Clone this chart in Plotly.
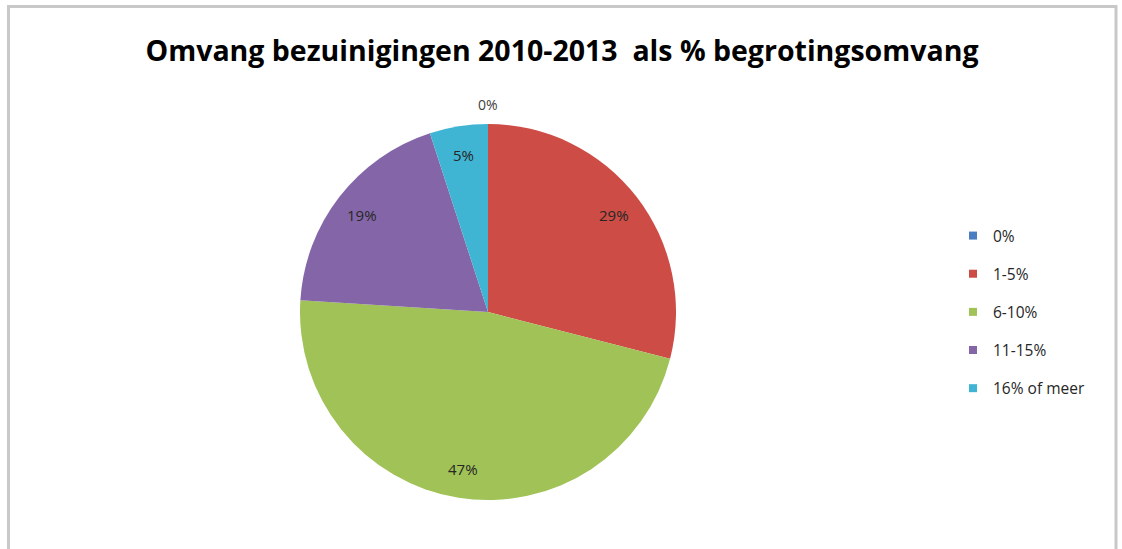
import plotly.graph_objects as go
import math

categories = ["0%", "1-5%", "6-10%", "11-15%", "16% of meer"]
values = [0, 29, 47, 19, 5]
colors = ["#4A7EC0", "#CD4C45", "#A0C257", "#8466A8", "#40B5D3"]
title = "Omvang bezuinigingen 2010-2013  als % begrotingsomvang"

W, H = 1122, 549
cx, cy, R = 488, 312, 188

fig = go.Figure()
fig.add_trace(go.Pie(
    labels=categories, values=values, sort=False, direction="clockwise",
    rotation=0, marker=dict(colors=colors, line=dict(width=0)),
    textinfo="none", showlegend=False, hoverinfo="label+value",
    domain=dict(x=[(cx - R) / W, (cx + R) / W], y=[1 - (cy + R) / H, 1 - (cy - R) / H]),
))

# legend entries as marker-only traces
for c, col in zip(categories, colors):
    fig.add_trace(go.Scatter(x=[None], y=[None], mode="markers", name=c,
                             legendgroup=c,
                             marker=dict(symbol="square", size=8, color=col)))

# data labels placed at each slice's mid-angle
cum = 0
total = sum(values)
annotations = []
for c, v in zip(categories, values):
    ang = 2 * math.pi * (cum + v / 2) / total
    rr = R + 20 if v == 0 else R * 0.845
    px = cx + rr * math.sin(ang)
    py = cy - rr * math.cos(ang)
    annotations.append(dict(x=px / W, y=1 - py / H, xref="paper", yref="paper",
                            xanchor="center", yanchor="middle",
                            text=f"{v}%", showarrow=False,
                            font=dict(family="Open Sans", size=15 if v else 14,
                                      color="#404040" if v == 0 else "#262626")))
    cum += v

fig.update_layout(
    width=W, height=H,
    margin=dict(l=0, r=0, t=0, b=0),
    paper_bgcolor="white", plot_bgcolor="white",
    title=dict(text=title, x=562 / W, xanchor="center", y=1 - 51 / H, yanchor="middle",
               font=dict(family="Open Sans", size=28.5, color="black", weight="bold")),
    xaxis=dict(visible=False), yaxis=dict(visible=False),
    legend=dict(x=953 / W, xanchor="left", y=1 - 312 / H, yanchor="middle",
                font=dict(family="Open Sans", size=15.5, color="#262626"),
                tracegroupgap=15, bgcolor="rgba(0,0,0,0)"),
    annotations=annotations,
    shapes=[dict(type="rect", xref="paper", yref="paper",
                 x0=8.5 / W, x1=1116 / W, y0=-0.1, y1=1 - 6.5 / H,
                 line=dict(color="#C8C8C8", width=3))],
)

fig.write_html("out.html", config={"displayModeBar": False},
               post_script="document.body.style.margin='0';")
